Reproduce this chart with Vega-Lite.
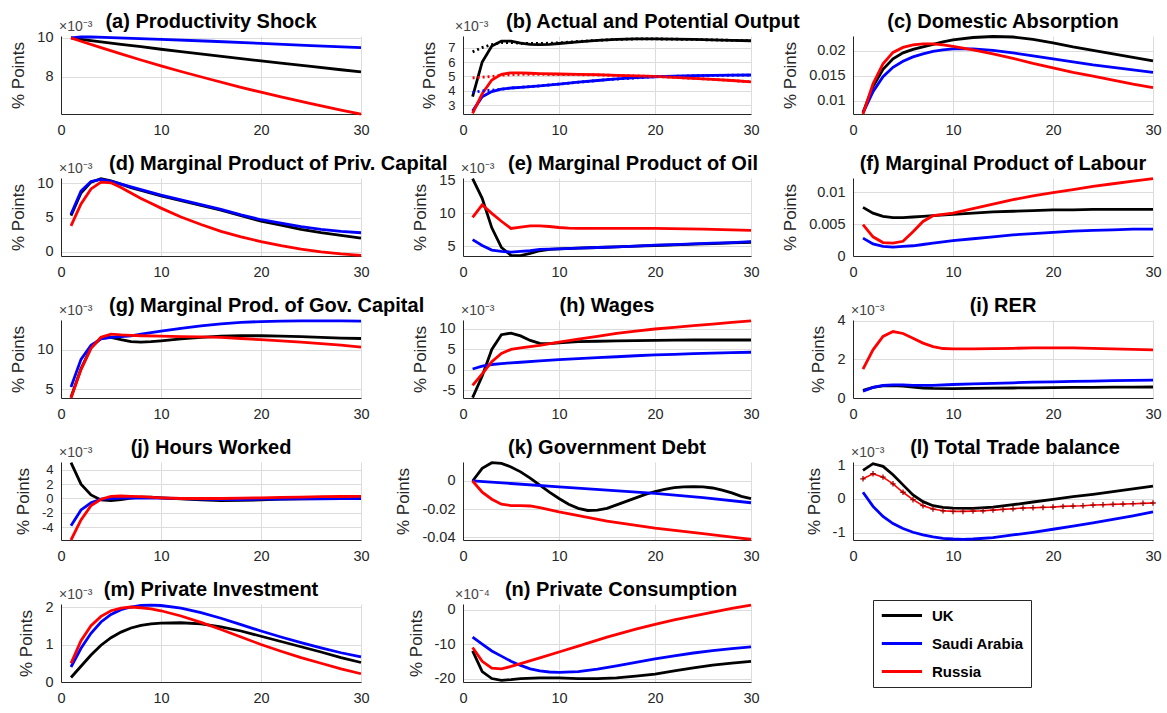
{
"$schema": "https://vega.github.io/schema/vega-lite/v6.json",
"background": "white",
"padding": {"left": 9, "top": 11, "right": 5, "bottom": 5},
"columns": 3,
"spacing": {"row": 64, "column": 102},
"bounds": "flush",
"config": {
 "font": "Liberation Sans",
 "view": {"stroke": null},
 "axis": {"grid": true, "gridColor": "#dcdcdc", "gridWidth": 1, "domainColor": "#262626", "domainWidth": 1, "ticks": false, "labelFontSize": 14.5, "labelColor": "#262626", "labelPadding": 8, "labelOverlap": false, "labelFlush": false, "titleFontSize": 17, "titleFontWeight": "normal", "titleColor": "#262626", "titlePadding": 9},
 "axisX": {"labelPadding": 9},
 "title": {"fontSize": 20, "fontWeight": "bold", "color": "#000000"},
 "line": {"strokeWidth": 2.8},
 "text": {"font": "Liberation Sans"}
},
"data": {"values": [
{"p":"a","c":"UK","t":1,"v":10},{"p":"a","c":"UK","t":2,"v":9.93},{"p":"a","c":"UK","t":4,"v":9.8},{"p":"a","c":"UK","t":6,"v":9.67},{"p":"a","c":"UK","t":8,"v":9.55},{"p":"a","c":"UK","t":10,"v":9.42},{"p":"a","c":"UK","t":12,"v":9.3},{"p":"a","c":"UK","t":15,"v":9.12},{"p":"a","c":"UK","t":18,"v":8.94},{"p":"a","c":"UK","t":20,"v":8.82},{"p":"a","c":"UK","t":22,"v":8.71},{"p":"a","c":"UK","t":25,"v":8.54},{"p":"a","c":"UK","t":28,"v":8.37},{"p":"a","c":"UK","t":30,"v":8.26},
{"p":"a","c":"Saudi Arabia","t":1,"v":10},{"p":"a","c":"Saudi Arabia","t":2,"v":10.05},{"p":"a","c":"Saudi Arabia","t":3,"v":10.05},{"p":"a","c":"Saudi Arabia","t":5,"v":10.02},{"p":"a","c":"Saudi Arabia","t":10,"v":9.93},{"p":"a","c":"Saudi Arabia","t":15,"v":9.83},{"p":"a","c":"Saudi Arabia","t":20,"v":9.72},{"p":"a","c":"Saudi Arabia","t":25,"v":9.61},{"p":"a","c":"Saudi Arabia","t":30,"v":9.5},
{"p":"a","c":"Russia","t":1,"v":10},{"p":"a","c":"Russia","t":2,"v":9.83},{"p":"a","c":"Russia","t":4,"v":9.5},{"p":"a","c":"Russia","t":6,"v":9.18},{"p":"a","c":"Russia","t":8,"v":8.87},{"p":"a","c":"Russia","t":10,"v":8.57},{"p":"a","c":"Russia","t":12,"v":8.28},{"p":"a","c":"Russia","t":15,"v":7.87},{"p":"a","c":"Russia","t":18,"v":7.47},{"p":"a","c":"Russia","t":20,"v":7.22},{"p":"a","c":"Russia","t":22,"v":6.98},{"p":"a","c":"Russia","t":25,"v":6.63},{"p":"a","c":"Russia","t":28,"v":6.3},{"p":"a","c":"Russia","t":30,"v":6.09},

{"p":"b","c":"UK","t":1,"v":3.6},{"p":"b","c":"UK","t":2,"v":6.0},{"p":"b","c":"UK","t":3,"v":7.1},{"p":"b","c":"UK","t":4,"v":7.45},{"p":"b","c":"UK","t":5,"v":7.45},{"p":"b","c":"UK","t":6,"v":7.3},{"p":"b","c":"UK","t":7,"v":7.22},{"p":"b","c":"UK","t":8,"v":7.2},{"p":"b","c":"UK","t":9,"v":7.22},{"p":"b","c":"UK","t":10,"v":7.28},{"p":"b","c":"UK","t":12,"v":7.4},{"p":"b","c":"UK","t":14,"v":7.5},{"p":"b","c":"UK","t":16,"v":7.56},{"p":"b","c":"UK","t":18,"v":7.6},{"p":"b","c":"UK","t":20,"v":7.6},{"p":"b","c":"UK","t":22,"v":7.58},{"p":"b","c":"UK","t":24,"v":7.56},{"p":"b","c":"UK","t":26,"v":7.53},{"p":"b","c":"UK","t":28,"v":7.5},{"p":"b","c":"UK","t":30,"v":7.47},
{"p":"b","c":"Saudi Arabia","t":1,"v":2.6},{"p":"b","c":"Saudi Arabia","t":2,"v":3.6},{"p":"b","c":"Saudi Arabia","t":3,"v":3.95},{"p":"b","c":"Saudi Arabia","t":4,"v":4.12},{"p":"b","c":"Saudi Arabia","t":5,"v":4.2},{"p":"b","c":"Saudi Arabia","t":6,"v":4.25},{"p":"b","c":"Saudi Arabia","t":7,"v":4.3},{"p":"b","c":"Saudi Arabia","t":8,"v":4.35},{"p":"b","c":"Saudi Arabia","t":10,"v":4.47},{"p":"b","c":"Saudi Arabia","t":12,"v":4.6},{"p":"b","c":"Saudi Arabia","t":14,"v":4.72},{"p":"b","c":"Saudi Arabia","t":16,"v":4.83},{"p":"b","c":"Saudi Arabia","t":18,"v":4.92},{"p":"b","c":"Saudi Arabia","t":20,"v":4.98},{"p":"b","c":"Saudi Arabia","t":22,"v":5.02},{"p":"b","c":"Saudi Arabia","t":24,"v":5.05},{"p":"b","c":"Saudi Arabia","t":26,"v":5.07},{"p":"b","c":"Saudi Arabia","t":28,"v":5.09},{"p":"b","c":"Saudi Arabia","t":30,"v":5.1},
{"p":"b","c":"Russia","t":1,"v":2.45},{"p":"b","c":"Russia","t":2,"v":3.8},{"p":"b","c":"Russia","t":3,"v":4.75},{"p":"b","c":"Russia","t":4,"v":5.15},{"p":"b","c":"Russia","t":5,"v":5.25},{"p":"b","c":"Russia","t":6,"v":5.25},{"p":"b","c":"Russia","t":7,"v":5.22},{"p":"b","c":"Russia","t":8,"v":5.2},{"p":"b","c":"Russia","t":10,"v":5.17},{"p":"b","c":"Russia","t":12,"v":5.15},{"p":"b","c":"Russia","t":14,"v":5.12},{"p":"b","c":"Russia","t":16,"v":5.08},{"p":"b","c":"Russia","t":18,"v":5.04},{"p":"b","c":"Russia","t":20,"v":5.0},{"p":"b","c":"Russia","t":22,"v":4.94},{"p":"b","c":"Russia","t":24,"v":4.87},{"p":"b","c":"Russia","t":26,"v":4.8},{"p":"b","c":"Russia","t":28,"v":4.72},{"p":"b","c":"Russia","t":30,"v":4.63},
{"p":"bp","c":"UK","t":1,"v":6.7},{"p":"bp","c":"UK","t":2,"v":7.0},{"p":"bp","c":"UK","t":3,"v":7.2},{"p":"bp","c":"UK","t":4,"v":7.35},{"p":"bp","c":"UK","t":5,"v":7.35},{"p":"bp","c":"UK","t":6,"v":7.3},{"p":"bp","c":"UK","t":7,"v":7.28},{"p":"bp","c":"UK","t":8,"v":7.28},{"p":"bp","c":"UK","t":9,"v":7.3},{"p":"bp","c":"UK","t":10,"v":7.33},{"p":"bp","c":"UK","t":12,"v":7.42},{"p":"bp","c":"UK","t":14,"v":7.5},{"p":"bp","c":"UK","t":16,"v":7.56},{"p":"bp","c":"UK","t":18,"v":7.6},{"p":"bp","c":"UK","t":20,"v":7.6},{"p":"bp","c":"UK","t":22,"v":7.58},{"p":"bp","c":"UK","t":24,"v":7.56},{"p":"bp","c":"UK","t":26,"v":7.53},{"p":"bp","c":"UK","t":28,"v":7.5},{"p":"bp","c":"UK","t":30,"v":7.47},
{"p":"bp","c":"Saudi Arabia","t":1,"v":3.9},{"p":"bp","c":"Saudi Arabia","t":2,"v":4.0},{"p":"bp","c":"Saudi Arabia","t":3,"v":4.05},{"p":"bp","c":"Saudi Arabia","t":4,"v":4.12},{"p":"bp","c":"Saudi Arabia","t":5,"v":4.2},{"p":"bp","c":"Saudi Arabia","t":6,"v":4.25},{"p":"bp","c":"Saudi Arabia","t":8,"v":4.35},{"p":"bp","c":"Saudi Arabia","t":10,"v":4.47},{"p":"bp","c":"Saudi Arabia","t":15,"v":4.78},{"p":"bp","c":"Saudi Arabia","t":20,"v":4.98},{"p":"bp","c":"Saudi Arabia","t":25,"v":5.06},{"p":"bp","c":"Saudi Arabia","t":30,"v":5.1},
{"p":"bp","c":"Russia","t":1,"v":4.9},{"p":"bp","c":"Russia","t":2,"v":4.95},{"p":"bp","c":"Russia","t":3,"v":5.0},{"p":"bp","c":"Russia","t":4,"v":5.08},{"p":"bp","c":"Russia","t":5,"v":5.12},{"p":"bp","c":"Russia","t":6,"v":5.14},{"p":"bp","c":"Russia","t":8,"v":5.14},{"p":"bp","c":"Russia","t":10,"v":5.13},{"p":"bp","c":"Russia","t":12,"v":5.12},{"p":"bp","c":"Russia","t":14,"v":5.1},{"p":"bp","c":"Russia","t":16,"v":5.07},{"p":"bp","c":"Russia","t":18,"v":5.04},{"p":"bp","c":"Russia","t":20,"v":5.0},{"p":"bp","c":"Russia","t":22,"v":4.94},{"p":"bp","c":"Russia","t":24,"v":4.87},{"p":"bp","c":"Russia","t":26,"v":4.8},{"p":"bp","c":"Russia","t":28,"v":4.72},{"p":"bp","c":"Russia","t":30,"v":4.63},

{"p":"c","c":"UK","t":1,"v":0.0076},{"p":"c","c":"UK","t":2,"v":0.0128},{"p":"c","c":"UK","t":3,"v":0.0163},{"p":"c","c":"UK","t":4,"v":0.0184},{"p":"c","c":"UK","t":5,"v":0.0196},{"p":"c","c":"UK","t":6,"v":0.0203},{"p":"c","c":"UK","t":7,"v":0.0208},{"p":"c","c":"UK","t":8,"v":0.0213},{"p":"c","c":"UK","t":9,"v":0.0218},{"p":"c","c":"UK","t":10,"v":0.0222},{"p":"c","c":"UK","t":12,"v":0.0227},{"p":"c","c":"UK","t":14,"v":0.0229},{"p":"c","c":"UK","t":16,"v":0.0228},{"p":"c","c":"UK","t":18,"v":0.0223},{"p":"c","c":"UK","t":20,"v":0.0216},{"p":"c","c":"UK","t":22,"v":0.0208},{"p":"c","c":"UK","t":24,"v":0.0201},{"p":"c","c":"UK","t":26,"v":0.0194},{"p":"c","c":"UK","t":28,"v":0.0187},{"p":"c","c":"UK","t":30,"v":0.018},
{"p":"c","c":"Saudi Arabia","t":1,"v":0.0075},{"p":"c","c":"Saudi Arabia","t":2,"v":0.0118},{"p":"c","c":"Saudi Arabia","t":3,"v":0.0148},{"p":"c","c":"Saudi Arabia","t":4,"v":0.0167},{"p":"c","c":"Saudi Arabia","t":5,"v":0.0179},{"p":"c","c":"Saudi Arabia","t":6,"v":0.0188},{"p":"c","c":"Saudi Arabia","t":7,"v":0.0194},{"p":"c","c":"Saudi Arabia","t":8,"v":0.0199},{"p":"c","c":"Saudi Arabia","t":9,"v":0.0202},{"p":"c","c":"Saudi Arabia","t":10,"v":0.0204},{"p":"c","c":"Saudi Arabia","t":12,"v":0.0204},{"p":"c","c":"Saudi Arabia","t":14,"v":0.0201},{"p":"c","c":"Saudi Arabia","t":16,"v":0.0196},{"p":"c","c":"Saudi Arabia","t":18,"v":0.019},{"p":"c","c":"Saudi Arabia","t":20,"v":0.0184},{"p":"c","c":"Saudi Arabia","t":22,"v":0.0178},{"p":"c","c":"Saudi Arabia","t":24,"v":0.0172},{"p":"c","c":"Saudi Arabia","t":26,"v":0.0167},{"p":"c","c":"Saudi Arabia","t":28,"v":0.0162},{"p":"c","c":"Saudi Arabia","t":30,"v":0.0157},
{"p":"c","c":"Russia","t":1,"v":0.0073},{"p":"c","c":"Russia","t":2,"v":0.0134},{"p":"c","c":"Russia","t":3,"v":0.0174},{"p":"c","c":"Russia","t":4,"v":0.0197},{"p":"c","c":"Russia","t":5,"v":0.0207},{"p":"c","c":"Russia","t":6,"v":0.0212},{"p":"c","c":"Russia","t":7,"v":0.0214},{"p":"c","c":"Russia","t":8,"v":0.0214},{"p":"c","c":"Russia","t":9,"v":0.0212},{"p":"c","c":"Russia","t":10,"v":0.0209},{"p":"c","c":"Russia","t":12,"v":0.0202},{"p":"c","c":"Russia","t":14,"v":0.0194},{"p":"c","c":"Russia","t":16,"v":0.0185},{"p":"c","c":"Russia","t":18,"v":0.0175},{"p":"c","c":"Russia","t":20,"v":0.0166},{"p":"c","c":"Russia","t":22,"v":0.0157},{"p":"c","c":"Russia","t":24,"v":0.0149},{"p":"c","c":"Russia","t":26,"v":0.0141},{"p":"c","c":"Russia","t":28,"v":0.0133},{"p":"c","c":"Russia","t":30,"v":0.0126},

{"p":"d","c":"UK","t":1,"v":5.3},{"p":"d","c":"UK","t":2,"v":8.6},{"p":"d","c":"UK","t":3,"v":10.2},{"p":"d","c":"UK","t":4,"v":10.7},{"p":"d","c":"UK","t":5,"v":10.4},{"p":"d","c":"UK","t":6,"v":9.9},{"p":"d","c":"UK","t":7,"v":9.4},{"p":"d","c":"UK","t":8,"v":9.0},{"p":"d","c":"UK","t":9,"v":8.6},{"p":"d","c":"UK","t":10,"v":8.2},{"p":"d","c":"UK","t":12,"v":7.5},{"p":"d","c":"UK","t":14,"v":6.8},{"p":"d","c":"UK","t":16,"v":6.1},{"p":"d","c":"UK","t":18,"v":5.3},{"p":"d","c":"UK","t":20,"v":4.5},{"p":"d","c":"UK","t":22,"v":3.9},{"p":"d","c":"UK","t":24,"v":3.3},{"p":"d","c":"UK","t":26,"v":2.8},{"p":"d","c":"UK","t":28,"v":2.4},{"p":"d","c":"UK","t":30,"v":2.0},
{"p":"d","c":"Saudi Arabia","t":1,"v":5.5},{"p":"d","c":"Saudi Arabia","t":2,"v":8.9},{"p":"d","c":"Saudi Arabia","t":3,"v":10.3},{"p":"d","c":"Saudi Arabia","t":4,"v":10.6},{"p":"d","c":"Saudi Arabia","t":5,"v":10.3},{"p":"d","c":"Saudi Arabia","t":6,"v":9.9},{"p":"d","c":"Saudi Arabia","t":7,"v":9.5},{"p":"d","c":"Saudi Arabia","t":8,"v":9.1},{"p":"d","c":"Saudi Arabia","t":9,"v":8.7},{"p":"d","c":"Saudi Arabia","t":10,"v":8.3},{"p":"d","c":"Saudi Arabia","t":12,"v":7.6},{"p":"d","c":"Saudi Arabia","t":14,"v":6.9},{"p":"d","c":"Saudi Arabia","t":16,"v":6.2},{"p":"d","c":"Saudi Arabia","t":18,"v":5.4},{"p":"d","c":"Saudi Arabia","t":20,"v":4.7},{"p":"d","c":"Saudi Arabia","t":22,"v":4.2},{"p":"d","c":"Saudi Arabia","t":24,"v":3.7},{"p":"d","c":"Saudi Arabia","t":26,"v":3.3},{"p":"d","c":"Saudi Arabia","t":28,"v":3.0},{"p":"d","c":"Saudi Arabia","t":30,"v":2.8},
{"p":"d","c":"Russia","t":1,"v":3.8},{"p":"d","c":"Russia","t":2,"v":7.0},{"p":"d","c":"Russia","t":3,"v":9.2},{"p":"d","c":"Russia","t":4,"v":10.2},{"p":"d","c":"Russia","t":5,"v":10.1},{"p":"d","c":"Russia","t":6,"v":9.4},{"p":"d","c":"Russia","t":7,"v":8.6},{"p":"d","c":"Russia","t":8,"v":7.8},{"p":"d","c":"Russia","t":9,"v":7.1},{"p":"d","c":"Russia","t":10,"v":6.4},{"p":"d","c":"Russia","t":12,"v":5.1},{"p":"d","c":"Russia","t":14,"v":4.0},{"p":"d","c":"Russia","t":16,"v":3.0},{"p":"d","c":"Russia","t":18,"v":2.2},{"p":"d","c":"Russia","t":20,"v":1.5},{"p":"d","c":"Russia","t":22,"v":0.9},{"p":"d","c":"Russia","t":24,"v":0.4},{"p":"d","c":"Russia","t":26,"v":0.0},{"p":"d","c":"Russia","t":28,"v":-0.3},{"p":"d","c":"Russia","t":30,"v":-0.5},

{"p":"e","c":"UK","t":1,"v":15.3},{"p":"e","c":"UK","t":2,"v":12.3},{"p":"e","c":"UK","t":3,"v":7.8},{"p":"e","c":"UK","t":4,"v":4.8},{"p":"e","c":"UK","t":5,"v":3.6},{"p":"e","c":"UK","t":6,"v":3.55},{"p":"e","c":"UK","t":7,"v":3.9},{"p":"e","c":"UK","t":8,"v":4.3},{"p":"e","c":"UK","t":9,"v":4.5},{"p":"e","c":"UK","t":10,"v":4.6},{"p":"e","c":"UK","t":12,"v":4.7},{"p":"e","c":"UK","t":14,"v":4.8},{"p":"e","c":"UK","t":16,"v":4.9},{"p":"e","c":"UK","t":18,"v":5.0},{"p":"e","c":"UK","t":20,"v":5.1},{"p":"e","c":"UK","t":22,"v":5.2},{"p":"e","c":"UK","t":24,"v":5.3},{"p":"e","c":"UK","t":26,"v":5.4},{"p":"e","c":"UK","t":28,"v":5.5},{"p":"e","c":"UK","t":30,"v":5.6},
{"p":"e","c":"Saudi Arabia","t":1,"v":6.0},{"p":"e","c":"Saudi Arabia","t":2,"v":5.1},{"p":"e","c":"Saudi Arabia","t":3,"v":4.4},{"p":"e","c":"Saudi Arabia","t":4,"v":4.2},{"p":"e","c":"Saudi Arabia","t":5,"v":4.1},{"p":"e","c":"Saudi Arabia","t":6,"v":4.2},{"p":"e","c":"Saudi Arabia","t":7,"v":4.3},{"p":"e","c":"Saudi Arabia","t":8,"v":4.5},{"p":"e","c":"Saudi Arabia","t":9,"v":4.55},{"p":"e","c":"Saudi Arabia","t":10,"v":4.6},{"p":"e","c":"Saudi Arabia","t":12,"v":4.7},{"p":"e","c":"Saudi Arabia","t":14,"v":4.8},{"p":"e","c":"Saudi Arabia","t":16,"v":4.9},{"p":"e","c":"Saudi Arabia","t":18,"v":5.0},{"p":"e","c":"Saudi Arabia","t":20,"v":5.15},{"p":"e","c":"Saudi Arabia","t":22,"v":5.25},{"p":"e","c":"Saudi Arabia","t":24,"v":5.35},{"p":"e","c":"Saudi Arabia","t":26,"v":5.45},{"p":"e","c":"Saudi Arabia","t":28,"v":5.55},{"p":"e","c":"Saudi Arabia","t":30,"v":5.7},
{"p":"e","c":"Russia","t":1,"v":9.4},{"p":"e","c":"Russia","t":2,"v":11.3},{"p":"e","c":"Russia","t":3,"v":10.0},{"p":"e","c":"Russia","t":4,"v":8.8},{"p":"e","c":"Russia","t":5,"v":7.7},{"p":"e","c":"Russia","t":6,"v":7.9},{"p":"e","c":"Russia","t":7,"v":8.1},{"p":"e","c":"Russia","t":8,"v":8.1},{"p":"e","c":"Russia","t":9,"v":8.0},{"p":"e","c":"Russia","t":10,"v":7.85},{"p":"e","c":"Russia","t":11,"v":7.75},{"p":"e","c":"Russia","t":12,"v":7.7},{"p":"e","c":"Russia","t":15,"v":7.7},{"p":"e","c":"Russia","t":20,"v":7.7},{"p":"e","c":"Russia","t":25,"v":7.6},{"p":"e","c":"Russia","t":30,"v":7.4},

{"p":"f","c":"UK","t":1,"v":0.0076},{"p":"f","c":"UK","t":2,"v":0.0067},{"p":"f","c":"UK","t":3,"v":0.0062},{"p":"f","c":"UK","t":4,"v":0.006},{"p":"f","c":"UK","t":5,"v":0.006},{"p":"f","c":"UK","t":6,"v":0.0061},{"p":"f","c":"UK","t":7,"v":0.0062},{"p":"f","c":"UK","t":8,"v":0.0063},{"p":"f","c":"UK","t":10,"v":0.0065},{"p":"f","c":"UK","t":12,"v":0.0067},{"p":"f","c":"UK","t":14,"v":0.0069},{"p":"f","c":"UK","t":16,"v":0.007},{"p":"f","c":"UK","t":18,"v":0.0071},{"p":"f","c":"UK","t":20,"v":0.0072},{"p":"f","c":"UK","t":22,"v":0.0072},{"p":"f","c":"UK","t":24,"v":0.0073},{"p":"f","c":"UK","t":26,"v":0.0073},{"p":"f","c":"UK","t":28,"v":0.0073},{"p":"f","c":"UK","t":30,"v":0.0073},
{"p":"f","c":"Saudi Arabia","t":1,"v":0.0028},{"p":"f","c":"Saudi Arabia","t":2,"v":0.0019},{"p":"f","c":"Saudi Arabia","t":3,"v":0.0015},{"p":"f","c":"Saudi Arabia","t":4,"v":0.0014},{"p":"f","c":"Saudi Arabia","t":5,"v":0.0015},{"p":"f","c":"Saudi Arabia","t":6,"v":0.0016},{"p":"f","c":"Saudi Arabia","t":7,"v":0.0018},{"p":"f","c":"Saudi Arabia","t":8,"v":0.002},{"p":"f","c":"Saudi Arabia","t":10,"v":0.0024},{"p":"f","c":"Saudi Arabia","t":12,"v":0.0027},{"p":"f","c":"Saudi Arabia","t":14,"v":0.003},{"p":"f","c":"Saudi Arabia","t":16,"v":0.0033},{"p":"f","c":"Saudi Arabia","t":18,"v":0.0035},{"p":"f","c":"Saudi Arabia","t":20,"v":0.0037},{"p":"f","c":"Saudi Arabia","t":22,"v":0.0039},{"p":"f","c":"Saudi Arabia","t":24,"v":0.004},{"p":"f","c":"Saudi Arabia","t":26,"v":0.0041},{"p":"f","c":"Saudi Arabia","t":28,"v":0.0042},{"p":"f","c":"Saudi Arabia","t":30,"v":0.0042},
{"p":"f","c":"Russia","t":1,"v":0.0049},{"p":"f","c":"Russia","t":2,"v":0.003},{"p":"f","c":"Russia","t":3,"v":0.0021},{"p":"f","c":"Russia","t":4,"v":0.002},{"p":"f","c":"Russia","t":5,"v":0.0023},{"p":"f","c":"Russia","t":6,"v":0.0038},{"p":"f","c":"Russia","t":7,"v":0.0054},{"p":"f","c":"Russia","t":8,"v":0.0063},{"p":"f","c":"Russia","t":9,"v":0.0065},{"p":"f","c":"Russia","t":10,"v":0.0067},{"p":"f","c":"Russia","t":12,"v":0.0074},{"p":"f","c":"Russia","t":14,"v":0.0081},{"p":"f","c":"Russia","t":16,"v":0.0088},{"p":"f","c":"Russia","t":18,"v":0.0094},{"p":"f","c":"Russia","t":20,"v":0.0099},{"p":"f","c":"Russia","t":22,"v":0.0104},{"p":"f","c":"Russia","t":24,"v":0.0109},{"p":"f","c":"Russia","t":26,"v":0.0113},{"p":"f","c":"Russia","t":28,"v":0.0117},{"p":"f","c":"Russia","t":30,"v":0.0121},

{"p":"g","c":"UK","t":1,"v":4.0},{"p":"g","c":"UK","t":2,"v":7.6},{"p":"g","c":"UK","t":3,"v":10.3},{"p":"g","c":"UK","t":4,"v":11.5},{"p":"g","c":"UK","t":5,"v":11.6},{"p":"g","c":"UK","t":6,"v":11.3},{"p":"g","c":"UK","t":7,"v":11.05},{"p":"g","c":"UK","t":8,"v":11.0},{"p":"g","c":"UK","t":9,"v":11.05},{"p":"g","c":"UK","t":10,"v":11.15},{"p":"g","c":"UK","t":12,"v":11.4},{"p":"g","c":"UK","t":14,"v":11.6},{"p":"g","c":"UK","t":16,"v":11.75},{"p":"g","c":"UK","t":18,"v":11.8},{"p":"g","c":"UK","t":20,"v":11.8},{"p":"g","c":"UK","t":22,"v":11.75},{"p":"g","c":"UK","t":24,"v":11.7},{"p":"g","c":"UK","t":26,"v":11.6},{"p":"g","c":"UK","t":28,"v":11.5},{"p":"g","c":"UK","t":30,"v":11.45},
{"p":"g","c":"Saudi Arabia","t":1,"v":5.3},{"p":"g","c":"Saudi Arabia","t":2,"v":8.8},{"p":"g","c":"Saudi Arabia","t":3,"v":10.6},{"p":"g","c":"Saudi Arabia","t":4,"v":11.4},{"p":"g","c":"Saudi Arabia","t":5,"v":11.6},{"p":"g","c":"Saudi Arabia","t":6,"v":11.7},{"p":"g","c":"Saudi Arabia","t":7,"v":11.8},{"p":"g","c":"Saudi Arabia","t":8,"v":12.0},{"p":"g","c":"Saudi Arabia","t":9,"v":12.2},{"p":"g","c":"Saudi Arabia","t":10,"v":12.4},{"p":"g","c":"Saudi Arabia","t":12,"v":12.75},{"p":"g","c":"Saudi Arabia","t":14,"v":13.05},{"p":"g","c":"Saudi Arabia","t":16,"v":13.3},{"p":"g","c":"Saudi Arabia","t":18,"v":13.5},{"p":"g","c":"Saudi Arabia","t":20,"v":13.6},{"p":"g","c":"Saudi Arabia","t":22,"v":13.65},{"p":"g","c":"Saudi Arabia","t":24,"v":13.7},{"p":"g","c":"Saudi Arabia","t":26,"v":13.7},{"p":"g","c":"Saudi Arabia","t":28,"v":13.7},{"p":"g","c":"Saudi Arabia","t":30,"v":13.65},
{"p":"g","c":"Russia","t":1,"v":3.9},{"p":"g","c":"Russia","t":2,"v":7.5},{"p":"g","c":"Russia","t":3,"v":10.2},{"p":"g","c":"Russia","t":4,"v":11.6},{"p":"g","c":"Russia","t":5,"v":12.0},{"p":"g","c":"Russia","t":6,"v":11.9},{"p":"g","c":"Russia","t":7,"v":11.85},{"p":"g","c":"Russia","t":8,"v":11.8},{"p":"g","c":"Russia","t":10,"v":11.75},{"p":"g","c":"Russia","t":12,"v":11.7},{"p":"g","c":"Russia","t":14,"v":11.65},{"p":"g","c":"Russia","t":16,"v":11.6},{"p":"g","c":"Russia","t":18,"v":11.45},{"p":"g","c":"Russia","t":20,"v":11.3},{"p":"g","c":"Russia","t":22,"v":11.15},{"p":"g","c":"Russia","t":24,"v":11.0},{"p":"g","c":"Russia","t":26,"v":10.8},{"p":"g","c":"Russia","t":28,"v":10.6},{"p":"g","c":"Russia","t":30,"v":10.35},

{"p":"h","c":"UK","t":1,"v":-6.8},{"p":"h","c":"UK","t":2,"v":-1.5},{"p":"h","c":"UK","t":3,"v":5.0},{"p":"h","c":"UK","t":4,"v":8.6},{"p":"h","c":"UK","t":5,"v":9.0},{"p":"h","c":"UK","t":6,"v":8.3},{"p":"h","c":"UK","t":7,"v":7.2},{"p":"h","c":"UK","t":8,"v":6.5},{"p":"h","c":"UK","t":9,"v":6.4},{"p":"h","c":"UK","t":10,"v":6.6},{"p":"h","c":"UK","t":12,"v":6.9},{"p":"h","c":"UK","t":14,"v":7.0},{"p":"h","c":"UK","t":16,"v":7.1},{"p":"h","c":"UK","t":18,"v":7.15},{"p":"h","c":"UK","t":20,"v":7.2},{"p":"h","c":"UK","t":22,"v":7.25},{"p":"h","c":"UK","t":24,"v":7.3},{"p":"h","c":"UK","t":26,"v":7.3},{"p":"h","c":"UK","t":28,"v":7.3},{"p":"h","c":"UK","t":30,"v":7.3},
{"p":"h","c":"Saudi Arabia","t":1,"v":0.2},{"p":"h","c":"Saudi Arabia","t":2,"v":0.9},{"p":"h","c":"Saudi Arabia","t":3,"v":1.3},{"p":"h","c":"Saudi Arabia","t":4,"v":1.5},{"p":"h","c":"Saudi Arabia","t":5,"v":1.7},{"p":"h","c":"Saudi Arabia","t":6,"v":1.85},{"p":"h","c":"Saudi Arabia","t":8,"v":2.2},{"p":"h","c":"Saudi Arabia","t":10,"v":2.5},{"p":"h","c":"Saudi Arabia","t":12,"v":2.75},{"p":"h","c":"Saudi Arabia","t":14,"v":3.0},{"p":"h","c":"Saudi Arabia","t":16,"v":3.2},{"p":"h","c":"Saudi Arabia","t":18,"v":3.45},{"p":"h","c":"Saudi Arabia","t":20,"v":3.65},{"p":"h","c":"Saudi Arabia","t":22,"v":3.8},{"p":"h","c":"Saudi Arabia","t":24,"v":3.95},{"p":"h","c":"Saudi Arabia","t":26,"v":4.1},{"p":"h","c":"Saudi Arabia","t":28,"v":4.2},{"p":"h","c":"Saudi Arabia","t":30,"v":4.3},
{"p":"h","c":"Russia","t":1,"v":-3.8},{"p":"h","c":"Russia","t":2,"v":-1.0},{"p":"h","c":"Russia","t":3,"v":2.0},{"p":"h","c":"Russia","t":4,"v":4.0},{"p":"h","c":"Russia","t":5,"v":5.0},{"p":"h","c":"Russia","t":6,"v":5.4},{"p":"h","c":"Russia","t":7,"v":5.7},{"p":"h","c":"Russia","t":8,"v":6.0},{"p":"h","c":"Russia","t":10,"v":6.8},{"p":"h","c":"Russia","t":12,"v":7.5},{"p":"h","c":"Russia","t":14,"v":8.2},{"p":"h","c":"Russia","t":16,"v":8.9},{"p":"h","c":"Russia","t":18,"v":9.5},{"p":"h","c":"Russia","t":20,"v":10.0},{"p":"h","c":"Russia","t":22,"v":10.4},{"p":"h","c":"Russia","t":24,"v":10.8},{"p":"h","c":"Russia","t":26,"v":11.2},{"p":"h","c":"Russia","t":28,"v":11.6},{"p":"h","c":"Russia","t":30,"v":12.0},

{"p":"i","c":"UK","t":1,"v":0.4},{"p":"i","c":"UK","t":2,"v":0.55},{"p":"i","c":"UK","t":3,"v":0.63},{"p":"i","c":"UK","t":4,"v":0.65},{"p":"i","c":"UK","t":5,"v":0.62},{"p":"i","c":"UK","t":6,"v":0.57},{"p":"i","c":"UK","t":7,"v":0.52},{"p":"i","c":"UK","t":8,"v":0.5},{"p":"i","c":"UK","t":10,"v":0.49},{"p":"i","c":"UK","t":12,"v":0.5},{"p":"i","c":"UK","t":14,"v":0.51},{"p":"i","c":"UK","t":16,"v":0.52},{"p":"i","c":"UK","t":18,"v":0.53},{"p":"i","c":"UK","t":20,"v":0.54},{"p":"i","c":"UK","t":22,"v":0.55},{"p":"i","c":"UK","t":24,"v":0.55},{"p":"i","c":"UK","t":26,"v":0.56},{"p":"i","c":"UK","t":28,"v":0.56},{"p":"i","c":"UK","t":30,"v":0.57},
{"p":"i","c":"Saudi Arabia","t":1,"v":0.35},{"p":"i","c":"Saudi Arabia","t":2,"v":0.55},{"p":"i","c":"Saudi Arabia","t":3,"v":0.65},{"p":"i","c":"Saudi Arabia","t":4,"v":0.68},{"p":"i","c":"Saudi Arabia","t":5,"v":0.68},{"p":"i","c":"Saudi Arabia","t":6,"v":0.66},{"p":"i","c":"Saudi Arabia","t":8,"v":0.66},{"p":"i","c":"Saudi Arabia","t":10,"v":0.7},{"p":"i","c":"Saudi Arabia","t":12,"v":0.73},{"p":"i","c":"Saudi Arabia","t":14,"v":0.76},{"p":"i","c":"Saudi Arabia","t":16,"v":0.79},{"p":"i","c":"Saudi Arabia","t":18,"v":0.82},{"p":"i","c":"Saudi Arabia","t":20,"v":0.84},{"p":"i","c":"Saudi Arabia","t":22,"v":0.86},{"p":"i","c":"Saudi Arabia","t":24,"v":0.88},{"p":"i","c":"Saudi Arabia","t":26,"v":0.9},{"p":"i","c":"Saudi Arabia","t":28,"v":0.92},{"p":"i","c":"Saudi Arabia","t":30,"v":0.93},
{"p":"i","c":"Russia","t":1,"v":1.5},{"p":"i","c":"Russia","t":2,"v":2.5},{"p":"i","c":"Russia","t":3,"v":3.2},{"p":"i","c":"Russia","t":4,"v":3.45},{"p":"i","c":"Russia","t":5,"v":3.35},{"p":"i","c":"Russia","t":6,"v":3.1},{"p":"i","c":"Russia","t":7,"v":2.85},{"p":"i","c":"Russia","t":8,"v":2.67},{"p":"i","c":"Russia","t":9,"v":2.57},{"p":"i","c":"Russia","t":10,"v":2.55},{"p":"i","c":"Russia","t":12,"v":2.55},{"p":"i","c":"Russia","t":14,"v":2.56},{"p":"i","c":"Russia","t":16,"v":2.58},{"p":"i","c":"Russia","t":18,"v":2.6},{"p":"i","c":"Russia","t":20,"v":2.6},{"p":"i","c":"Russia","t":22,"v":2.6},{"p":"i","c":"Russia","t":24,"v":2.58},{"p":"i","c":"Russia","t":26,"v":2.55},{"p":"i","c":"Russia","t":28,"v":2.52},{"p":"i","c":"Russia","t":30,"v":2.5},

{"p":"j","c":"UK","t":1,"v":5.0},{"p":"j","c":"UK","t":2,"v":2.0},{"p":"j","c":"UK","t":3,"v":0.5},{"p":"j","c":"UK","t":4,"v":-0.2},{"p":"j","c":"UK","t":5,"v":-0.3},{"p":"j","c":"UK","t":6,"v":-0.15},{"p":"j","c":"UK","t":7,"v":0.05},{"p":"j","c":"UK","t":8,"v":0.2},{"p":"j","c":"UK","t":9,"v":0.2},{"p":"j","c":"UK","t":10,"v":0.1},{"p":"j","c":"UK","t":12,"v":-0.05},{"p":"j","c":"UK","t":14,"v":-0.2},{"p":"j","c":"UK","t":16,"v":-0.3},{"p":"j","c":"UK","t":18,"v":-0.25},{"p":"j","c":"UK","t":20,"v":-0.2},{"p":"j","c":"UK","t":22,"v":-0.1},{"p":"j","c":"UK","t":24,"v":-0.05},{"p":"j","c":"UK","t":26,"v":0.0},{"p":"j","c":"UK","t":28,"v":0.05},{"p":"j","c":"UK","t":30,"v":0.1},
{"p":"j","c":"Saudi Arabia","t":1,"v":-3.8},{"p":"j","c":"Saudi Arabia","t":2,"v":-1.6},{"p":"j","c":"Saudi Arabia","t":3,"v":-0.6},{"p":"j","c":"Saudi Arabia","t":4,"v":-0.1},{"p":"j","c":"Saudi Arabia","t":5,"v":0.0},{"p":"j","c":"Saudi Arabia","t":6,"v":0.05},{"p":"j","c":"Saudi Arabia","t":8,"v":0.1},{"p":"j","c":"Saudi Arabia","t":10,"v":0.05},{"p":"j","c":"Saudi Arabia","t":12,"v":0.0},{"p":"j","c":"Saudi Arabia","t":14,"v":-0.1},{"p":"j","c":"Saudi Arabia","t":16,"v":-0.15},{"p":"j","c":"Saudi Arabia","t":18,"v":-0.15},{"p":"j","c":"Saudi Arabia","t":20,"v":-0.1},{"p":"j","c":"Saudi Arabia","t":22,"v":-0.1},{"p":"j","c":"Saudi Arabia","t":24,"v":-0.05},{"p":"j","c":"Saudi Arabia","t":26,"v":-0.05},{"p":"j","c":"Saudi Arabia","t":28,"v":0.0},{"p":"j","c":"Saudi Arabia","t":30,"v":0.0},
{"p":"j","c":"Russia","t":1,"v":-5.8},{"p":"j","c":"Russia","t":2,"v":-3.0},{"p":"j","c":"Russia","t":3,"v":-1.0},{"p":"j","c":"Russia","t":4,"v":-0.1},{"p":"j","c":"Russia","t":5,"v":0.3},{"p":"j","c":"Russia","t":6,"v":0.35},{"p":"j","c":"Russia","t":7,"v":0.3},{"p":"j","c":"Russia","t":8,"v":0.25},{"p":"j","c":"Russia","t":10,"v":0.1},{"p":"j","c":"Russia","t":12,"v":0.0},{"p":"j","c":"Russia","t":14,"v":0.0},{"p":"j","c":"Russia","t":16,"v":0.0},{"p":"j","c":"Russia","t":18,"v":0.05},{"p":"j","c":"Russia","t":20,"v":0.1},{"p":"j","c":"Russia","t":22,"v":0.15},{"p":"j","c":"Russia","t":24,"v":0.2},{"p":"j","c":"Russia","t":26,"v":0.25},{"p":"j","c":"Russia","t":28,"v":0.28},{"p":"j","c":"Russia","t":30,"v":0.3},

{"p":"k","c":"UK","t":1,"v":0},{"p":"k","c":"UK","t":2,"v":0.009},{"p":"k","c":"UK","t":3,"v":0.013},{"p":"k","c":"UK","t":4,"v":0.0125},{"p":"k","c":"UK","t":5,"v":0.01},{"p":"k","c":"UK","t":6,"v":0.0065},{"p":"k","c":"UK","t":7,"v":0.002},{"p":"k","c":"UK","t":8,"v":-0.003},{"p":"k","c":"UK","t":9,"v":-0.008},{"p":"k","c":"UK","t":10,"v":-0.0125},{"p":"k","c":"UK","t":11,"v":-0.0165},{"p":"k","c":"UK","t":12,"v":-0.0195},{"p":"k","c":"UK","t":13,"v":-0.021},{"p":"k","c":"UK","t":14,"v":-0.0208},{"p":"k","c":"UK","t":15,"v":-0.0195},{"p":"k","c":"UK","t":16,"v":-0.017},{"p":"k","c":"UK","t":17,"v":-0.0145},{"p":"k","c":"UK","t":18,"v":-0.012},{"p":"k","c":"UK","t":19,"v":-0.0095},{"p":"k","c":"UK","t":20,"v":-0.0075},{"p":"k","c":"UK","t":21,"v":-0.006},{"p":"k","c":"UK","t":22,"v":-0.0048},{"p":"k","c":"UK","t":23,"v":-0.0042},{"p":"k","c":"UK","t":24,"v":-0.004},{"p":"k","c":"UK","t":25,"v":-0.0042},{"p":"k","c":"UK","t":26,"v":-0.005},{"p":"k","c":"UK","t":27,"v":-0.0065},{"p":"k","c":"UK","t":28,"v":-0.0085},{"p":"k","c":"UK","t":29,"v":-0.011},{"p":"k","c":"UK","t":30,"v":-0.0125},
{"p":"k","c":"Saudi Arabia","t":1,"v":0},{"p":"k","c":"Saudi Arabia","t":5,"v":-0.0018},{"p":"k","c":"Saudi Arabia","t":10,"v":-0.0042},{"p":"k","c":"Saudi Arabia","t":15,"v":-0.0065},{"p":"k","c":"Saudi Arabia","t":20,"v":-0.0088},{"p":"k","c":"Saudi Arabia","t":25,"v":-0.0118},{"p":"k","c":"Saudi Arabia","t":30,"v":-0.0155},
{"p":"k","c":"Russia","t":1,"v":0},{"p":"k","c":"Russia","t":2,"v":-0.008},{"p":"k","c":"Russia","t":3,"v":-0.013},{"p":"k","c":"Russia","t":4,"v":-0.0165},{"p":"k","c":"Russia","t":5,"v":-0.0175},{"p":"k","c":"Russia","t":6,"v":-0.0175},{"p":"k","c":"Russia","t":7,"v":-0.0178},{"p":"k","c":"Russia","t":8,"v":-0.019},{"p":"k","c":"Russia","t":10,"v":-0.022},{"p":"k","c":"Russia","t":15,"v":-0.0285},{"p":"k","c":"Russia","t":20,"v":-0.0335},{"p":"k","c":"Russia","t":25,"v":-0.0375},{"p":"k","c":"Russia","t":30,"v":-0.0415},

{"p":"l","c":"UK","t":1,"v":0.85},{"p":"l","c":"UK","t":2,"v":1.05},{"p":"l","c":"UK","t":3,"v":0.97},{"p":"l","c":"UK","t":4,"v":0.72},{"p":"l","c":"UK","t":5,"v":0.42},{"p":"l","c":"UK","t":6,"v":0.12},{"p":"l","c":"UK","t":7,"v":-0.08},{"p":"l","c":"UK","t":8,"v":-0.2},{"p":"l","c":"UK","t":9,"v":-0.25},{"p":"l","c":"UK","t":10,"v":-0.27},{"p":"l","c":"UK","t":12,"v":-0.28},{"p":"l","c":"UK","t":14,"v":-0.24},{"p":"l","c":"UK","t":16,"v":-0.17},{"p":"l","c":"UK","t":18,"v":-0.09},{"p":"l","c":"UK","t":20,"v":-0.01},{"p":"l","c":"UK","t":22,"v":0.07},{"p":"l","c":"UK","t":24,"v":0.14},{"p":"l","c":"UK","t":26,"v":0.22},{"p":"l","c":"UK","t":28,"v":0.3},{"p":"l","c":"UK","t":30,"v":0.38},
{"p":"l","c":"Saudi Arabia","t":1,"v":0.2},{"p":"l","c":"Saudi Arabia","t":2,"v":-0.22},{"p":"l","c":"Saudi Arabia","t":3,"v":-0.52},{"p":"l","c":"Saudi Arabia","t":4,"v":-0.73},{"p":"l","c":"Saudi Arabia","t":5,"v":-0.88},{"p":"l","c":"Saudi Arabia","t":6,"v":-0.99},{"p":"l","c":"Saudi Arabia","t":7,"v":-1.07},{"p":"l","c":"Saudi Arabia","t":8,"v":-1.13},{"p":"l","c":"Saudi Arabia","t":9,"v":-1.17},{"p":"l","c":"Saudi Arabia","t":10,"v":-1.19},{"p":"l","c":"Saudi Arabia","t":11,"v":-1.2},{"p":"l","c":"Saudi Arabia","t":12,"v":-1.19},{"p":"l","c":"Saudi Arabia","t":14,"v":-1.15},{"p":"l","c":"Saudi Arabia","t":16,"v":-1.07},{"p":"l","c":"Saudi Arabia","t":18,"v":-0.99},{"p":"l","c":"Saudi Arabia","t":20,"v":-0.9},{"p":"l","c":"Saudi Arabia","t":22,"v":-0.81},{"p":"l","c":"Saudi Arabia","t":24,"v":-0.71},{"p":"l","c":"Saudi Arabia","t":26,"v":-0.61},{"p":"l","c":"Saudi Arabia","t":28,"v":-0.5},{"p":"l","c":"Saudi Arabia","t":30,"v":-0.38},
{"p":"l","c":"Russia","t":1,"v":0.6},{"p":"l","c":"Russia","t":2,"v":0.75},{"p":"l","c":"Russia","t":3,"v":0.65},{"p":"l","c":"Russia","t":4,"v":0.45},{"p":"l","c":"Russia","t":5,"v":0.2},{"p":"l","c":"Russia","t":6,"v":-0.02},{"p":"l","c":"Russia","t":7,"v":-0.2},{"p":"l","c":"Russia","t":8,"v":-0.3},{"p":"l","c":"Russia","t":9,"v":-0.35},{"p":"l","c":"Russia","t":10,"v":-0.37},{"p":"l","c":"Russia","t":11,"v":-0.37},{"p":"l","c":"Russia","t":12,"v":-0.36},{"p":"l","c":"Russia","t":13,"v":-0.35},{"p":"l","c":"Russia","t":14,"v":-0.33},{"p":"l","c":"Russia","t":15,"v":-0.31},{"p":"l","c":"Russia","t":16,"v":-0.29},{"p":"l","c":"Russia","t":17,"v":-0.27},{"p":"l","c":"Russia","t":18,"v":-0.26},{"p":"l","c":"Russia","t":19,"v":-0.25},{"p":"l","c":"Russia","t":20,"v":-0.24},{"p":"l","c":"Russia","t":21,"v":-0.22},{"p":"l","c":"Russia","t":22,"v":-0.21},{"p":"l","c":"Russia","t":23,"v":-0.2},{"p":"l","c":"Russia","t":24,"v":-0.18},{"p":"l","c":"Russia","t":25,"v":-0.17},{"p":"l","c":"Russia","t":26,"v":-0.16},{"p":"l","c":"Russia","t":27,"v":-0.15},{"p":"l","c":"Russia","t":28,"v":-0.14},{"p":"l","c":"Russia","t":29,"v":-0.13},{"p":"l","c":"Russia","t":30,"v":-0.12},

{"p":"m","c":"UK","t":1,"v":0.12},{"p":"m","c":"UK","t":2,"v":0.42},{"p":"m","c":"UK","t":3,"v":0.72},{"p":"m","c":"UK","t":4,"v":0.98},{"p":"m","c":"UK","t":5,"v":1.18},{"p":"m","c":"UK","t":6,"v":1.33},{"p":"m","c":"UK","t":7,"v":1.44},{"p":"m","c":"UK","t":8,"v":1.51},{"p":"m","c":"UK","t":9,"v":1.55},{"p":"m","c":"UK","t":10,"v":1.57},{"p":"m","c":"UK","t":12,"v":1.58},{"p":"m","c":"UK","t":14,"v":1.55},{"p":"m","c":"UK","t":16,"v":1.47},{"p":"m","c":"UK","t":18,"v":1.36},{"p":"m","c":"UK","t":20,"v":1.22},{"p":"m","c":"UK","t":22,"v":1.08},{"p":"m","c":"UK","t":24,"v":0.94},{"p":"m","c":"UK","t":26,"v":0.8},{"p":"m","c":"UK","t":28,"v":0.65},{"p":"m","c":"UK","t":30,"v":0.52},
{"p":"m","c":"Saudi Arabia","t":1,"v":0.4},{"p":"m","c":"Saudi Arabia","t":2,"v":0.9},{"p":"m","c":"Saudi Arabia","t":3,"v":1.3},{"p":"m","c":"Saudi Arabia","t":4,"v":1.6},{"p":"m","c":"Saudi Arabia","t":5,"v":1.8},{"p":"m","c":"Saudi Arabia","t":6,"v":1.93},{"p":"m","c":"Saudi Arabia","t":7,"v":2.0},{"p":"m","c":"Saudi Arabia","t":8,"v":2.04},{"p":"m","c":"Saudi Arabia","t":9,"v":2.05},{"p":"m","c":"Saudi Arabia","t":10,"v":2.04},{"p":"m","c":"Saudi Arabia","t":12,"v":1.97},{"p":"m","c":"Saudi Arabia","t":14,"v":1.85},{"p":"m","c":"Saudi Arabia","t":16,"v":1.7},{"p":"m","c":"Saudi Arabia","t":18,"v":1.53},{"p":"m","c":"Saudi Arabia","t":20,"v":1.36},{"p":"m","c":"Saudi Arabia","t":22,"v":1.2},{"p":"m","c":"Saudi Arabia","t":24,"v":1.05},{"p":"m","c":"Saudi Arabia","t":26,"v":0.91},{"p":"m","c":"Saudi Arabia","t":28,"v":0.78},{"p":"m","c":"Saudi Arabia","t":30,"v":0.67},
{"p":"m","c":"Russia","t":1,"v":0.5},{"p":"m","c":"Russia","t":2,"v":1.1},{"p":"m","c":"Russia","t":3,"v":1.5},{"p":"m","c":"Russia","t":4,"v":1.75},{"p":"m","c":"Russia","t":5,"v":1.9},{"p":"m","c":"Russia","t":6,"v":1.97},{"p":"m","c":"Russia","t":7,"v":2.0},{"p":"m","c":"Russia","t":8,"v":1.98},{"p":"m","c":"Russia","t":9,"v":1.95},{"p":"m","c":"Russia","t":10,"v":1.9},{"p":"m","c":"Russia","t":12,"v":1.76},{"p":"m","c":"Russia","t":14,"v":1.59},{"p":"m","c":"Russia","t":16,"v":1.4},{"p":"m","c":"Russia","t":18,"v":1.2},{"p":"m","c":"Russia","t":20,"v":1.0},{"p":"m","c":"Russia","t":22,"v":0.82},{"p":"m","c":"Russia","t":24,"v":0.65},{"p":"m","c":"Russia","t":26,"v":0.5},{"p":"m","c":"Russia","t":28,"v":0.35},{"p":"m","c":"Russia","t":30,"v":0.22},

{"p":"n","c":"UK","t":1,"v":-12},{"p":"n","c":"UK","t":2,"v":-18},{"p":"n","c":"UK","t":3,"v":-20},{"p":"n","c":"UK","t":4,"v":-20.5},{"p":"n","c":"UK","t":5,"v":-20.3},{"p":"n","c":"UK","t":6,"v":-20},{"p":"n","c":"UK","t":8,"v":-19.8},{"p":"n","c":"UK","t":10,"v":-19.8},{"p":"n","c":"UK","t":12,"v":-20},{"p":"n","c":"UK","t":14,"v":-20},{"p":"n","c":"UK","t":16,"v":-19.8},{"p":"n","c":"UK","t":18,"v":-19.3},{"p":"n","c":"UK","t":20,"v":-18.7},{"p":"n","c":"UK","t":22,"v":-17.8},{"p":"n","c":"UK","t":24,"v":-16.9},{"p":"n","c":"UK","t":26,"v":-16.1},{"p":"n","c":"UK","t":28,"v":-15.5},{"p":"n","c":"UK","t":30,"v":-15},
{"p":"n","c":"Saudi Arabia","t":1,"v":-8},{"p":"n","c":"Saudi Arabia","t":2,"v":-10},{"p":"n","c":"Saudi Arabia","t":3,"v":-12},{"p":"n","c":"Saudi Arabia","t":4,"v":-13.5},{"p":"n","c":"Saudi Arabia","t":5,"v":-15},{"p":"n","c":"Saudi Arabia","t":6,"v":-16.2},{"p":"n","c":"Saudi Arabia","t":7,"v":-17.2},{"p":"n","c":"Saudi Arabia","t":8,"v":-17.8},{"p":"n","c":"Saudi Arabia","t":9,"v":-18.1},{"p":"n","c":"Saudi Arabia","t":10,"v":-18.2},{"p":"n","c":"Saudi Arabia","t":12,"v":-18},{"p":"n","c":"Saudi Arabia","t":14,"v":-17.3},{"p":"n","c":"Saudi Arabia","t":16,"v":-16.3},{"p":"n","c":"Saudi Arabia","t":18,"v":-15.3},{"p":"n","c":"Saudi Arabia","t":20,"v":-14.3},{"p":"n","c":"Saudi Arabia","t":22,"v":-13.4},{"p":"n","c":"Saudi Arabia","t":24,"v":-12.6},{"p":"n","c":"Saudi Arabia","t":26,"v":-11.9},{"p":"n","c":"Saudi Arabia","t":28,"v":-11.3},{"p":"n","c":"Saudi Arabia","t":30,"v":-10.8},
{"p":"n","c":"Russia","t":1,"v":-11},{"p":"n","c":"Russia","t":2,"v":-15},{"p":"n","c":"Russia","t":3,"v":-17},{"p":"n","c":"Russia","t":4,"v":-17.2},{"p":"n","c":"Russia","t":5,"v":-16.5},{"p":"n","c":"Russia","t":6,"v":-15.7},{"p":"n","c":"Russia","t":8,"v":-14},{"p":"n","c":"Russia","t":10,"v":-12.3},{"p":"n","c":"Russia","t":12,"v":-10.6},{"p":"n","c":"Russia","t":15,"v":-8},{"p":"n","c":"Russia","t":18,"v":-5.7},{"p":"n","c":"Russia","t":20,"v":-4.3},{"p":"n","c":"Russia","t":22,"v":-3},{"p":"n","c":"Russia","t":25,"v":-1.3},{"p":"n","c":"Russia","t":28,"v":0.3},{"p":"n","c":"Russia","t":30,"v":1.3}
]},
"concat": [
{"title": {"text": "(a) Productivity Shock", "offset": -12}, "width": 300, "height": 78, "layer": [
 {"transform": [{"filter": "datum.p=='a'"}], "mark": "line", "encoding": {
  "x": {"field": "t", "type": "quantitative", "scale": {"domain": [0,30], "nice": false}, "axis": {"values": [0,10,20,30], "title": null}},
  "y": {"field": "v", "type": "quantitative", "scale": {"domain": [6.1,10.1], "nice": false, "zero": false}, "axis": {"values": [8,10], "title": "% Points", "labelOverlap": false, "labelExpr": "''+datum.value"}},
  "color": {"field": "c", "type": "nominal", "scale": {"domain": ["UK","Saudi Arabia","Russia"], "range": ["#000000","#0000ff","#ff0000"]},
   "legend": {"title": null, "orient": "none", "legendX": 812, "legendY": 564, "strokeColor": "#262626", "fillColor": "white", "padding": 7, "labelFontSize": 15, "labelFontWeight": "bold", "labelColor": "#000000", "symbolType": "M-1,0L5,0", "symbolSize": 180, "symbolStrokeWidth": 3, "rowPadding": 11, "labelOffset": 35}}}},
 {"data": {"values": [{"m": "×10⁻³"}]}, "mark": {"type": "text", "align": "left", "baseline": "bottom", "dx": -2, "dy": -2, "fontSize": 14, "color": "#444444"}, "encoding": {"x": {"datum": 0, "type": "quantitative", "axis": {"values": [0,10,20,30], "title": null}}, "y": {"datum": 10.1, "type": "quantitative", "axis": {"values": [8,10], "title": "% Points", "labelOverlap": false, "labelExpr": "''+datum.value"}}, "text": {"field": "m"}}}
]},
{"title": {"text": "(b) Actual and Potential Output", "offset": -12, "anchor": "start", "frame": "group", "dx": 43}, "width": 288, "height": 78, "layer": [
 {"transform": [{"filter": "datum.p=='b'"}], "mark": "line", "encoding": {
  "x": {"field": "t", "type": "quantitative", "scale": {"domain": [0,30], "nice": false}, "axis": {"values": [0,10,20,30], "title": null}},
  "y": {"field": "v", "type": "quantitative", "scale": {"domain": [2.4,7.8], "nice": false, "zero": false}, "axis": {"values": [3,4,5,6,7], "title": "% Points", "labelOverlap": false, "labelFontSize": 13, "labelExpr": "''+datum.value"}},
  "color": {"field": "c", "type": "nominal", "legend": null, "scale": {"domain": ["UK","Saudi Arabia","Russia"], "range": ["#000000","#0000ff","#ff0000"]}}}},
 {"transform": [{"filter": "datum.p=='bp'"}], "mark": {"type": "line", "strokeDash": [2,3]}, "encoding": {
  "x": {"field": "t", "type": "quantitative", "axis": {"values": [0,10,20,30], "title": null}},
  "y": {"field": "v", "type": "quantitative", "axis": {"values": [3,4,5,6,7], "title": "% Points", "labelOverlap": false, "labelFontSize": 13, "labelExpr": "''+datum.value"}},
  "color": {"field": "c", "type": "nominal", "legend": null}}},
 {"data": {"values": [{"m": "×10⁻³"}]}, "mark": {"type": "text", "align": "left", "baseline": "bottom", "dx": -8, "dy": -2, "fontSize": 14, "color": "#444444"}, "encoding": {"x": {"datum": 0, "type": "quantitative", "axis": {"values": [0,10,20,30], "title": null}}, "y": {"datum": 7.8, "type": "quantitative", "axis": {"values": [3,4,5,6,7], "title": "% Points", "labelOverlap": false, "labelFontSize": 13, "labelExpr": "''+datum.value"}}, "text": {"field": "m"}}}
]},
{"title": {"text": "(c) Domestic Absorption", "offset": -1}, "width": 300, "height": 78, "layer": [
 {"transform": [{"filter": "datum.p=='c'"}], "mark": "line", "encoding": {
  "x": {"field": "t", "type": "quantitative", "scale": {"domain": [0,30], "nice": false}, "axis": {"values": [0,10,20,30], "title": null}},
  "y": {"field": "v", "type": "quantitative", "scale": {"domain": [0.0073,0.023], "nice": false, "zero": false}, "axis": {"values": [0.01,0.015,0.02], "title": "% Points", "labelOverlap": false, "labelExpr": "''+datum.value"}},
  "color": {"field": "c", "type": "nominal", "legend": null, "scale": {"domain": ["UK","Saudi Arabia","Russia"], "range": ["#000000","#0000ff","#ff0000"]}}}}
]},
{"title": {"text": "(d) Marginal Product of Priv. Capital", "offset": -12, "anchor": "start", "frame": "group", "dx": 48}, "width": 300, "height": 78, "layer": [
 {"transform": [{"filter": "datum.p=='d'"}], "mark": "line", "encoding": {
  "x": {"field": "t", "type": "quantitative", "scale": {"domain": [0,30], "nice": false}, "axis": {"values": [0,10,20,30], "title": null}},
  "y": {"field": "v", "type": "quantitative", "scale": {"domain": [-0.6,10.8], "nice": false, "zero": false}, "axis": {"values": [0,5,10], "title": "% Points", "labelOverlap": false, "labelExpr": "''+datum.value"}},
  "color": {"field": "c", "type": "nominal", "legend": null, "scale": {"domain": ["UK","Saudi Arabia","Russia"], "range": ["#000000","#0000ff","#ff0000"]}}}},
 {"data": {"values": [{"m": "×10⁻³"}]}, "mark": {"type": "text", "align": "left", "baseline": "bottom", "dx": -2, "dy": -2, "fontSize": 14, "color": "#444444"}, "encoding": {"x": {"datum": 0, "type": "quantitative", "axis": {"values": [0,10,20,30], "title": null}}, "y": {"datum": 10.8, "type": "quantitative", "axis": {"values": [0,5,10], "title": "% Points", "labelOverlap": false, "labelExpr": "''+datum.value"}}, "text": {"field": "m"}}}
]},
{"title": {"text": "(e) Marginal Product of Oil", "offset": -12, "anchor": "start", "frame": "group", "dx": 45}, "width": 288, "height": 78, "layer": [
 {"transform": [{"filter": "datum.p=='e'"}], "mark": "line", "encoding": {
  "x": {"field": "t", "type": "quantitative", "scale": {"domain": [0,30], "nice": false}, "axis": {"values": [0,10,20,30], "title": null}},
  "y": {"field": "v", "type": "quantitative", "scale": {"domain": [3.5,15.4], "nice": false, "zero": false}, "axis": {"values": [5,10,15], "title": "% Points", "labelOverlap": false, "labelExpr": "''+datum.value"}},
  "color": {"field": "c", "type": "nominal", "legend": null, "scale": {"domain": ["UK","Saudi Arabia","Russia"], "range": ["#000000","#0000ff","#ff0000"]}}}},
 {"data": {"values": [{"m": "×10⁻³"}]}, "mark": {"type": "text", "align": "left", "baseline": "bottom", "dx": -2, "dy": -2, "fontSize": 14, "color": "#444444"}, "encoding": {"x": {"datum": 0, "type": "quantitative", "axis": {"values": [0,10,20,30], "title": null}}, "y": {"datum": 15.4, "type": "quantitative", "axis": {"values": [5,10,15], "title": "% Points", "labelOverlap": false, "labelExpr": "''+datum.value"}}, "text": {"field": "m"}}}
]},
{"title": {"text": "(f) Marginal Product of Labour", "offset": -1}, "width": 300, "height": 78, "layer": [
 {"transform": [{"filter": "datum.p=='f'"}], "mark": "line", "encoding": {
  "x": {"field": "t", "type": "quantitative", "scale": {"domain": [0,30], "nice": false}, "axis": {"values": [0,10,20,30], "title": null}},
  "y": {"field": "v", "type": "quantitative", "scale": {"domain": [0,0.0122], "nice": false, "zero": false}, "axis": {"values": [0,0.005,0.01], "title": "% Points", "labelOverlap": false, "labelExpr": "''+datum.value"}},
  "color": {"field": "c", "type": "nominal", "legend": null, "scale": {"domain": ["UK","Saudi Arabia","Russia"], "range": ["#000000","#0000ff","#ff0000"]}}}}
]},
{"title": {"text": "(g) Marginal Prod. of Gov. Capital", "offset": -12, "anchor": "start", "frame": "group", "dx": 48}, "width": 300, "height": 78, "layer": [
 {"transform": [{"filter": "datum.p=='g'"}], "mark": "line", "encoding": {
  "x": {"field": "t", "type": "quantitative", "scale": {"domain": [0,30], "nice": false}, "axis": {"values": [0,10,20,30], "title": null}},
  "y": {"field": "v", "type": "quantitative", "scale": {"domain": [3.9,13.8], "nice": false, "zero": false}, "axis": {"values": [5,10], "title": "% Points", "labelOverlap": false, "labelExpr": "''+datum.value"}},
  "color": {"field": "c", "type": "nominal", "legend": null, "scale": {"domain": ["UK","Saudi Arabia","Russia"], "range": ["#000000","#0000ff","#ff0000"]}}}},
 {"data": {"values": [{"m": "×10⁻³"}]}, "mark": {"type": "text", "align": "left", "baseline": "bottom", "dx": -2, "dy": -2, "fontSize": 14, "color": "#444444"}, "encoding": {"x": {"datum": 0, "type": "quantitative", "axis": {"values": [0,10,20,30], "title": null}}, "y": {"datum": 13.8, "type": "quantitative", "axis": {"values": [5,10], "title": "% Points", "labelOverlap": false, "labelExpr": "''+datum.value"}}, "text": {"field": "m"}}}
]},
{"title": {"text": "(h) Wages", "offset": -12}, "width": 288, "height": 78, "layer": [
 {"transform": [{"filter": "datum.p=='h'"}], "mark": "line", "encoding": {
  "x": {"field": "t", "type": "quantitative", "scale": {"domain": [0,30], "nice": false}, "axis": {"values": [0,10,20,30], "title": null}},
  "y": {"field": "v", "type": "quantitative", "scale": {"domain": [-6.9,12.2], "nice": false, "zero": false}, "axis": {"values": [-5,0,5,10], "title": "% Points", "labelOverlap": false, "labelExpr": "''+datum.value"}},
  "color": {"field": "c", "type": "nominal", "legend": null, "scale": {"domain": ["UK","Saudi Arabia","Russia"], "range": ["#000000","#0000ff","#ff0000"]}}}},
 {"data": {"values": [{"m": "×10⁻³"}]}, "mark": {"type": "text", "align": "left", "baseline": "bottom", "dx": -2, "dy": -2, "fontSize": 14, "color": "#444444"}, "encoding": {"x": {"datum": 0, "type": "quantitative", "axis": {"values": [0,10,20,30], "title": null}}, "y": {"datum": 12.2, "type": "quantitative", "axis": {"values": [-5,0,5,10], "title": "% Points", "labelOverlap": false, "labelExpr": "''+datum.value"}}, "text": {"field": "m"}}}
]},
{"title": {"text": "(i) RER", "offset": -12}, "width": 300, "height": 78, "layer": [
 {"transform": [{"filter": "datum.p=='i'"}], "mark": "line", "encoding": {
  "x": {"field": "t", "type": "quantitative", "scale": {"domain": [0,30], "nice": false}, "axis": {"values": [0,10,20,30], "title": null}},
  "y": {"field": "v", "type": "quantitative", "scale": {"domain": [0,4.05], "nice": false, "zero": false}, "axis": {"values": [0,2,4], "title": "% Points", "labelOverlap": false, "labelExpr": "''+datum.value"}},
  "color": {"field": "c", "type": "nominal", "legend": null, "scale": {"domain": ["UK","Saudi Arabia","Russia"], "range": ["#000000","#0000ff","#ff0000"]}}}},
 {"data": {"values": [{"m": "×10⁻³"}]}, "mark": {"type": "text", "align": "left", "baseline": "bottom", "dx": -2, "dy": -2, "fontSize": 14, "color": "#444444"}, "encoding": {"x": {"datum": 0, "type": "quantitative", "axis": {"values": [0,10,20,30], "title": null}}, "y": {"datum": 4.05, "type": "quantitative", "axis": {"values": [0,2,4], "title": "% Points", "labelOverlap": false, "labelExpr": "''+datum.value"}}, "text": {"field": "m"}}}
]},
{"title": {"text": "(j) Hours Worked", "offset": -12}, "width": 300, "height": 78, "layer": [
 {"transform": [{"filter": "datum.p=='j'"}], "mark": "line", "encoding": {
  "x": {"field": "t", "type": "quantitative", "scale": {"domain": [0,30], "nice": false}, "axis": {"values": [0,10,20,30], "title": null}},
  "y": {"field": "v", "type": "quantitative", "scale": {"domain": [-5.8,5.1], "nice": false, "zero": false}, "axis": {"values": [-4,-2,0,2,4], "title": "% Points", "labelOverlap": false, "labelFontSize": 13, "labelExpr": "''+datum.value"}},
  "color": {"field": "c", "type": "nominal", "legend": null, "scale": {"domain": ["UK","Saudi Arabia","Russia"], "range": ["#000000","#0000ff","#ff0000"]}}}},
 {"data": {"values": [{"m": "×10⁻³"}]}, "mark": {"type": "text", "align": "left", "baseline": "bottom", "dx": -2, "dy": -2, "fontSize": 14, "color": "#444444"}, "encoding": {"x": {"datum": 0, "type": "quantitative", "axis": {"values": [0,10,20,30], "title": null}}, "y": {"datum": 5.1, "type": "quantitative", "axis": {"values": [-4,-2,0,2,4], "title": "% Points", "labelOverlap": false, "labelFontSize": 13, "labelExpr": "''+datum.value"}}, "text": {"field": "m"}}}
]},
{"title": {"text": "(k) Government Debt", "offset": -1}, "width": 288, "height": 78, "layer": [
 {"transform": [{"filter": "datum.p=='k'"}], "mark": "line", "encoding": {
  "x": {"field": "t", "type": "quantitative", "scale": {"domain": [0,30], "nice": false}, "axis": {"values": [0,10,20,30], "title": null}},
  "y": {"field": "v", "type": "quantitative", "scale": {"domain": [-0.042,0.0135], "nice": false, "zero": false}, "axis": {"values": [-0.04,-0.02,0], "title": "% Points", "labelOverlap": false, "labelExpr": "''+datum.value"}},
  "color": {"field": "c", "type": "nominal", "legend": null, "scale": {"domain": ["UK","Saudi Arabia","Russia"], "range": ["#000000","#0000ff","#ff0000"]}}}}
]},
{"title": {"text": "(l) Total Trade balance", "offset": -12, "dx": 12}, "width": 300, "height": 78, "layer": [
 {"transform": [{"filter": "datum.p=='l' && datum.c!='Russia'"}], "mark": "line", "encoding": {
  "x": {"field": "t", "type": "quantitative", "scale": {"domain": [0,30], "nice": false}, "axis": {"values": [0,10,20,30], "title": null}},
  "y": {"field": "v", "type": "quantitative", "scale": {"domain": [-1.22,1.1], "nice": false, "zero": false}, "axis": {"values": [-1,0,1], "title": "% Points", "labelOverlap": false, "labelExpr": "''+datum.value"}},
  "color": {"field": "c", "type": "nominal", "legend": null, "scale": {"domain": ["UK","Saudi Arabia","Russia"], "range": ["#000000","#0000ff","#ff0000"]}}}},
 {"transform": [{"filter": "datum.p=='l' && datum.c=='Russia'"}], "mark": {"type": "line", "strokeWidth": 1.6}, "encoding": {
  "x": {"field": "t", "type": "quantitative", "axis": {"values": [0,10,20,30], "title": null}},
  "y": {"field": "v", "type": "quantitative", "axis": {"values": [-1,0,1], "title": "% Points", "labelOverlap": false, "labelExpr": "''+datum.value"}},
  "color": {"field": "c", "type": "nominal", "legend": null}}},
 {"transform": [{"filter": "datum.p=='l' && datum.c=='Russia'"}], "mark": {"type": "point", "shape": "M-1,0L1,0M0,-1L0,1", "filled": false, "size": 30, "strokeWidth": 1.3, "color": "#a00000", "opacity": 1}, "encoding": {
  "x": {"field": "t", "type": "quantitative", "axis": {"values": [0,10,20,30], "title": null}},
  "y": {"field": "v", "type": "quantitative", "axis": {"values": [-1,0,1], "title": "% Points", "labelOverlap": false, "labelExpr": "''+datum.value"}}}},
 {"data": {"values": [{"m": "×10⁻³"}]}, "mark": {"type": "text", "align": "left", "baseline": "bottom", "dx": -2, "dy": -2, "fontSize": 14, "color": "#444444"}, "encoding": {"x": {"datum": 0, "type": "quantitative", "axis": {"values": [0,10,20,30], "title": null}}, "y": {"datum": 1.1, "type": "quantitative", "axis": {"values": [-1,0,1], "title": "% Points", "labelOverlap": false, "labelExpr": "''+datum.value"}}, "text": {"field": "m"}}}
]},
{"title": {"text": "(m) Private Investment", "offset": -12}, "width": 300, "height": 78, "layer": [
 {"transform": [{"filter": "datum.p=='m'"}], "mark": "line", "encoding": {
  "x": {"field": "t", "type": "quantitative", "scale": {"domain": [0,30], "nice": false}, "axis": {"values": [0,10,20,30], "title": null}},
  "y": {"field": "v", "type": "quantitative", "scale": {"domain": [0,2.08], "nice": false, "zero": false}, "axis": {"values": [0,1,2], "title": "% Points", "labelOverlap": false, "labelExpr": "''+datum.value"}},
  "color": {"field": "c", "type": "nominal", "legend": null, "scale": {"domain": ["UK","Saudi Arabia","Russia"], "range": ["#000000","#0000ff","#ff0000"]}}}},
 {"data": {"values": [{"m": "×10⁻³"}]}, "mark": {"type": "text", "align": "left", "baseline": "bottom", "dx": -2, "dy": -2, "fontSize": 14, "color": "#444444"}, "encoding": {"x": {"datum": 0, "type": "quantitative", "axis": {"values": [0,10,20,30], "title": null}}, "y": {"datum": 2.08, "type": "quantitative", "axis": {"values": [0,1,2], "title": "% Points", "labelOverlap": false, "labelExpr": "''+datum.value"}}, "text": {"field": "m"}}}
]},
{"title": {"text": "(n) Private Consumption", "offset": -12, "dx": 14}, "width": 288, "height": 78, "layer": [
 {"transform": [{"filter": "datum.p=='n'"}], "mark": "line", "encoding": {
  "x": {"field": "t", "type": "quantitative", "scale": {"domain": [0,30], "nice": false}, "axis": {"values": [0,10,20,30], "title": null}},
  "y": {"field": "v", "type": "quantitative", "scale": {"domain": [-21,1.6], "nice": false, "zero": false}, "axis": {"values": [-20,-10,0], "title": "% Points", "labelOverlap": false, "labelExpr": "''+datum.value"}},
  "color": {"field": "c", "type": "nominal", "legend": null, "scale": {"domain": ["UK","Saudi Arabia","Russia"], "range": ["#000000","#0000ff","#ff0000"]}}}},
 {"data": {"values": [{"m": "×10⁻⁴"}]}, "mark": {"type": "text", "align": "left", "baseline": "bottom", "dx": -8, "dy": -2, "fontSize": 14, "color": "#444444"}, "encoding": {"x": {"datum": 0, "type": "quantitative", "axis": {"values": [0,10,20,30], "title": null}}, "y": {"datum": 1.6, "type": "quantitative", "axis": {"values": [-20,-10,0], "title": "% Points", "labelOverlap": false, "labelExpr": "''+datum.value"}}, "text": {"field": "m"}}}
]}
]
}
